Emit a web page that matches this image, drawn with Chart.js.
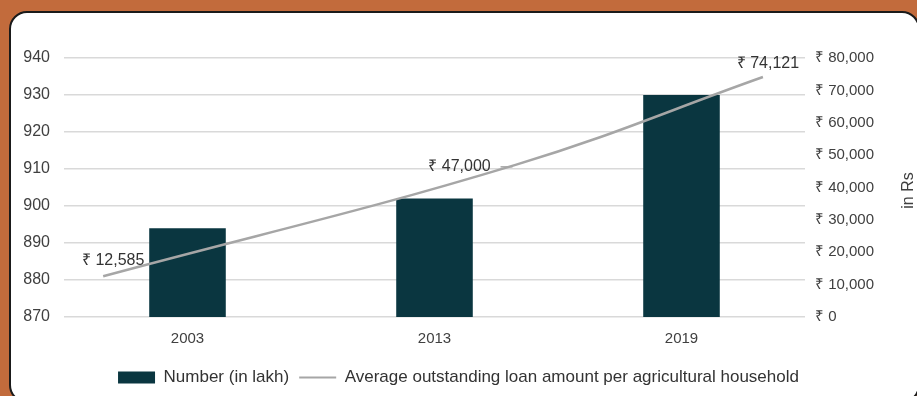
<!DOCTYPE html>
<html>
<head>
<meta charset="utf-8">
<script src="https://cdn.jsdelivr.net/npm/chart.js@4/dist/chart.umd.min.js"></script>
<style>
  html, body { margin: 0; padding: 0; }
  body { width: 917px; height: 396px; background: #c26b3c; position: relative; overflow: hidden; }
  #panel {
    position: absolute; left: 9px; top: 11px; width: 911px; height: 392px;
    background: #fff; border: 2px solid #1a1a1a; border-radius: 18px; box-sizing: border-box;
  }
  #wrap { position: absolute; left: 0; top: 0; width: 917px; height: 396px; }
</style>
</head>
<body>
<div id="panel"></div>
<div id="wrap"><canvas id="chart" width="917" height="396"></canvas></div>
<script>
// data
const years = ["2003", "2013", "2019"];
const yearNums = [2003, 2013, 2019];
const households = [894, 902, 930];          // Number (in lakh)
const avgLoan = [12585, 47000, 74121];       // Rs per agricultural household
const loanLabels = ["₹ 12,585", "₹ 47,000", "₹ 74,121"];

const FONT = '"Liberation Sans", Arial, sans-serif';
const TEXT = "#404040";

function rupee(v) {
  return "₹ " + v.toLocaleString("en-US");
}

// labels for the line points, plus the "in Rs" axis note
const loanLabelPlugin = {
  id: "loanLabels",
  afterDatasetsDraw(chart) {
    const ctx = chart.ctx;
    const meta = chart.getDatasetMeta(1);
    // offsets of the label centre from its point
    const offs = [[10, -16], [-56, 2], [5, -13]];
    ctx.save();
    ctx.font = "16px " + FONT;
    ctx.fillStyle = "#333";
    ctx.textAlign = "center";
    ctx.textBaseline = "middle";
    meta.data.forEach((pt, i) => {
      const cx = pt.x + offs[i][0];
      const cy = pt.y + offs[i][1];
      ctx.fillText(loanLabels[i], cx, cy);
      if (i == 1) {
        // little leader line back to the curve
        ctx.strokeStyle = "#a6a6a6";
        ctx.lineWidth = 1.5;
        ctx.beginPath();
        ctx.moveTo(cx + 41, cy);
        ctx.lineTo(pt.x - 3, cy);
        ctx.stroke();
      }
    });
    ctx.restore();
  },
  afterDraw(chart) {
    const ctx = chart.ctx;
    const a = chart.chartArea;
    ctx.save();
    ctx.font = "16px " + FONT;
    ctx.fillStyle = TEXT;
    ctx.translate(909, (a.top + a.bottom) / 2 + 3);
    ctx.rotate(-Math.PI / 2);
    ctx.textAlign = "center";
    ctx.textBaseline = "middle";
    ctx.fillText("in Rs", 0, 0);
    ctx.restore();
  }
};

new Chart(document.getElementById("chart"), {
  type: "bar",
  data: {
    labels: years,
    datasets: [
      {
        label: "Number (in lakh)",
        data: households,
        backgroundColor: "#0a3640",
        borderWidth: 0,
        grouped: false,
        barPercentage: 0.62,
        categoryPercentage: 0.5,
        yAxisID: "y",
        xAxisID: "x",
        order: 1,
      },
      {
        type: "line",
        label: "Average outstanding loan amount per agricultural household",
        data: yearNums.map((yr, i) => ({ x: yr, y: avgLoan[i] })),
        borderColor: "#a6a6a6",
        backgroundColor: "#a6a6a6",
        borderWidth: 2.5,
        pointRadius: 0,
        tension: 0.4,
        pointStyle: "line",
        xAxisID: "x2",
        yAxisID: "y2",
        order: 0,
      },
    ],
  },
  options: {
    responsive: false,
    animation: false,
    devicePixelRatio: 1,
    layout: { padding: { top: 58, left: 0, right: 0, bottom: 0 } },
    plugins: {
      legend: {
        position: "bottom",
        labels: {
          font: { family: FONT, size: 17 },
          color: "#333",
          usePointStyle: true,
          pointStyleWidth: 37,
          boxHeight: 12,
          padding: 10,
          sort: (a, b) => a.datasetIndex - b.datasetIndex,
          generateLabels(chart) {
            const items = Chart.defaults.plugins.legend.labels.generateLabels(chart);
            items.forEach((it) => {
              if (it.datasetIndex == 0) {
                it.pointStyle = "rect";
                it.lineWidth = 0;
              } else {
                it.pointStyle = "line";
                it.lineWidth = 2;
              }
            });
            return items;
          },
        },
      },
      tooltip: { enabled: false },
    },
    scales: {
      x: {
        grid: { display: false },
        border: { display: false },
        ticks: { font: { family: FONT, size: 15 }, color: TEXT, padding: 5 },
        afterFit(s) { s.height = 42; },
      },
      x2: {
        type: "linear",
        display: false,
        offset: false,
        min: 2002.05,
        max: 2020.02,
      },
      y: {
        position: "left",
        min: 870,
        max: 940,
        ticks: { stepSize: 10, font: { family: FONT, size: 16 }, color: TEXT, padding: 14 },
        grid: { color: "#d9d9d9", lineWidth: 1.5, drawTicks: false },
        border: { display: false },
        afterFit(s) { s.width = 64; },
      },
      y2: {
        position: "right",
        min: 0,
        max: 80000,
        ticks: {
          stepSize: 10000,
          font: { family: FONT, size: 15 },
          color: TEXT,
          padding: 10,
          callback: (v) => rupee(v),
        },
        grid: { display: false, drawTicks: false },
        border: { display: false },
        afterFit(s) { s.width = 112; },
      },
    },
  },
  plugins: [loanLabelPlugin],
});
</script>
</body>
</html>
